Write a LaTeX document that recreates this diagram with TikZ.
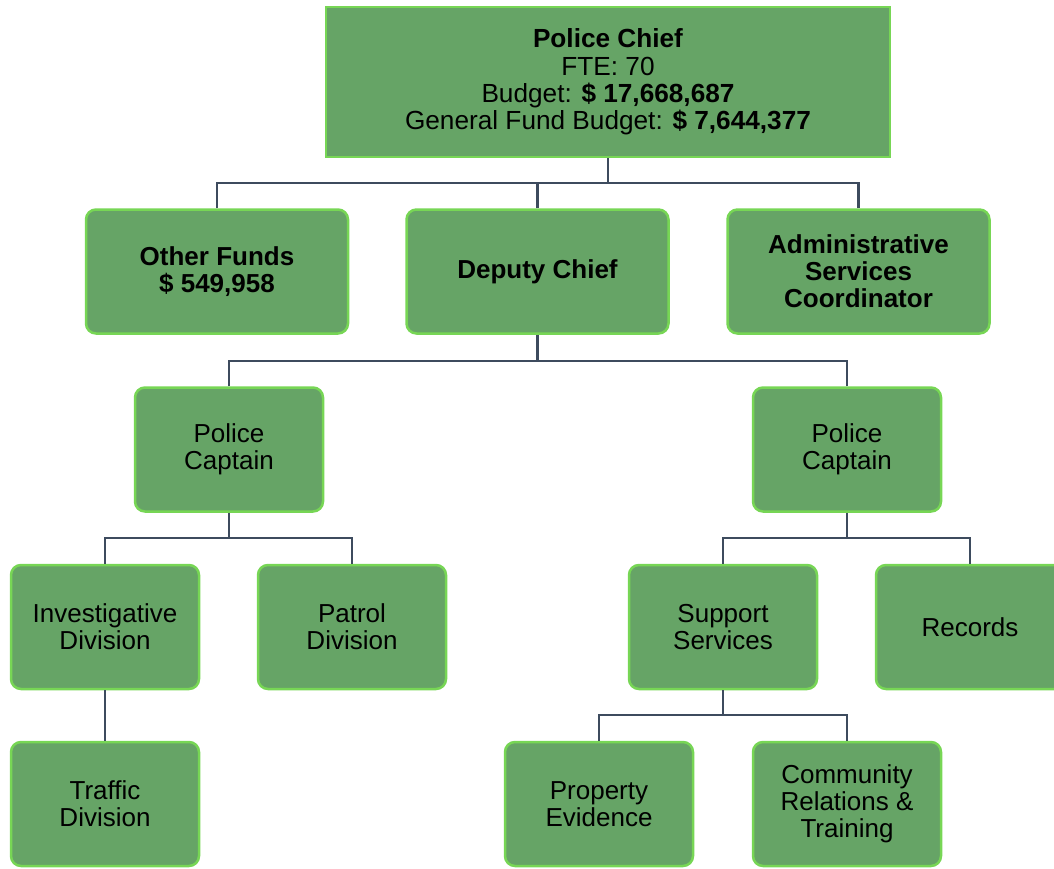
\documentclass[tikz,border=0pt]{standalone}
\usepackage{fontspec}
\setmainfont{Liberation Sans}
\definecolor{fillg}{HTML}{66A466}
\definecolor{bordg}{HTML}{77D655}
\definecolor{linec}{HTML}{3D4B5E}
\begin{document}
\begin{tikzpicture}[x=1pt,y=-1pt,
  box/.style={draw=bordg, fill=fillg, line width=2.5pt, rounded corners=10pt,
    minimum width=188pt, minimum height=124pt, align=center, inner sep=0pt,
    font=\fontsize{26}{27}\selectfont},
  wbox/.style={box, minimum width=262pt},
  conn/.style={draw=linec, line width=2.5pt}]
\useasboundingbox (0,0) rectangle (1054,869);
\clip (0,0) rectangle (1054,869);
% nodes
\node[box, rounded corners=0pt, minimum width=564pt, minimum height=150pt,
  font=\fontsize{26.2}{27.2}\selectfont] (chief) at (608,82)
  {\textbf{Police Chief}\\FTE: 70\\Budget: \textbf{\$ 17,668,687}\\General Fund Budget: \textbf{\$ 7,644,377}};
\node[wbox] (of) at (217,271.5) {\textbf{Other Funds}\\\textbf{\$ 549,958}};
\node[wbox] (dc) at (537.5,271.5) {\textbf{Deputy Chief}};
\node[wbox] (asc) at (858.5,271.5) {\textbf{Administrative}\\\textbf{Services}\\\textbf{Coordinator}};
\node[box] (pcl) at (229,449.5) {Police\\Captain};
\node[box] (pcr) at (847,449.5) {Police\\Captain};
\node[box] (inv) at (105,627) {Investigative\\Division};
\node[box] (pat) at (352,627) {Patrol\\Division};
\node[box] (sup) at (723,627) {Support\\Services};
\node[box] (rec) at (970,627) {Records};
\node[box] (tra) at (105,804) {Traffic\\Division};
\node[box] (pro) at (599,804) {Property\\Evidence};
\node[box] (com) at (847,804) {Community\\Relations \&\\Training};
% junctions
\coordinate (j1) at (608,183);
\coordinate (j2) at (537.5,361);
\coordinate (j3) at (229,538);
\coordinate (j4) at (847,538);
\coordinate (j5) at (723,715);
% connectors
\draw[conn] (chief.south) -- (j1);
\draw[conn] (of.north) |- (j1);
\draw[conn] (dc.north) |- (j1);
\draw[conn] (asc.north) |- (j1);
\draw[conn] (dc.south) -- (j2);
\draw[conn] (pcl.north) |- (j2);
\draw[conn] (pcr.north) |- (j2);
\draw[conn] (pcl.south) -- (j3);
\draw[conn] (inv.north) |- (j3);
\draw[conn] (pat.north) |- (j3);
\draw[conn] (pcr.south) -- (j4);
\draw[conn] (sup.north) |- (j4);
\draw[conn] (rec.north) |- (j4);
\draw[conn] (inv.south) -- (tra.north);
\draw[conn] (sup.south) -- (j5);
\draw[conn] (pro.north) |- (j5);
\draw[conn] (com.north) |- (j5);
\end{tikzpicture}
\end{document}
